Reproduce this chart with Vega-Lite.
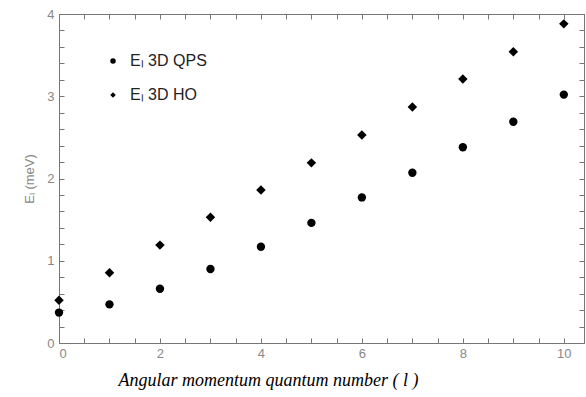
{
  "$schema": "https://vega.github.io/schema/vega-lite/v6.json",
  "width": 525,
  "height": 329,
  "autosize": "none",
  "padding": {"left": 59, "top": 14, "right": 2, "bottom": 54},
  "background": "white",
  "config": {
    "view": {"stroke": "#777777", "strokeWidth": 1},
    "axis": {"grid": false, "domainColor": "#777777", "labelColor": "#888888", "labelFont": "Liberation Sans", "labelFontSize": 13}
  },
  "data": {
    "values": [
      {"l": 0, "E": 0.37, "series": "Eₗ 3D QPS"},
      {"l": 1, "E": 0.47, "series": "Eₗ 3D QPS"},
      {"l": 2, "E": 0.66, "series": "Eₗ 3D QPS"},
      {"l": 3, "E": 0.90, "series": "Eₗ 3D QPS"},
      {"l": 4, "E": 1.17, "series": "Eₗ 3D QPS"},
      {"l": 5, "E": 1.46, "series": "Eₗ 3D QPS"},
      {"l": 6, "E": 1.77, "series": "Eₗ 3D QPS"},
      {"l": 7, "E": 2.07, "series": "Eₗ 3D QPS"},
      {"l": 8, "E": 2.38, "series": "Eₗ 3D QPS"},
      {"l": 9, "E": 2.69, "series": "Eₗ 3D QPS"},
      {"l": 10, "E": 3.02, "series": "Eₗ 3D QPS"},
      {"l": 0, "E": 0.52, "series": "Eₗ 3D HO"},
      {"l": 1, "E": 0.855, "series": "Eₗ 3D HO"},
      {"l": 2, "E": 1.19, "series": "Eₗ 3D HO"},
      {"l": 3, "E": 1.53, "series": "Eₗ 3D HO"},
      {"l": 4, "E": 1.86, "series": "Eₗ 3D HO"},
      {"l": 5, "E": 2.19, "series": "Eₗ 3D HO"},
      {"l": 6, "E": 2.53, "series": "Eₗ 3D HO"},
      {"l": 7, "E": 2.87, "series": "Eₗ 3D HO"},
      {"l": 8, "E": 3.21, "series": "Eₗ 3D HO"},
      {"l": 9, "E": 3.54, "series": "Eₗ 3D HO"},
      {"l": 10, "E": 3.88, "series": "Eₗ 3D HO"}
    ]
  },
  "resolve": {"axis": {"x": "independent", "y": "independent"}},
  "layer": [
    {
      "transform": [{"filter": "datum.series === 'Eₗ 3D QPS'"}],
      "mark": {"type": "point", "filled": true, "opacity": 1, "clip": false, "size": 70, "color": "black"},
      "encoding": {
        "x": {
          "field": "l", "type": "quantitative",
          "scale": {"domain": [0, 10.4], "nice": false, "zero": false},
          "axis": {
            "orient": "bottom",
            "values": [0,0.5,1,1.5,2,2.5,3,3.5,4,4.5,5,5.5,6,6.5,7,7.5,8,8.5,9,9.5,10],
            "labelExpr": "datum.value % 2 === 0 ? format(datum.value, 'd') : ''",
            "labelPadding": 9,
            "ticks": true,
            "tickColor": "#777777",
            "tickWidth": 1,
            "tickSize": -5,
            "title": "Angular momentum quantum number ( l )",
            "titleFont": "Liberation Serif",
            "titleFontStyle": "italic",
            "titleFontWeight": "normal",
            "titleFontSize": 18,
            "titleColor": "#000000",
            "titleX": 209,
            "titleY": 28
          }
        },
        "y": {
          "field": "E", "type": "quantitative",
          "scale": {"domain": [0, 4], "nice": false},
          "axis": {
            "orient": "left",
            "values": [0,0.2,0.4,0.6,0.8,1,1.2,1.4,1.6,1.8,2,2.2,2.4,2.6,2.8,3,3.2,3.4,3.6,3.8,4],
            "labelExpr": "datum.value % 1 === 0 ? format(datum.value, 'd') : ''",
            "labelPadding": 10,
            "ticks": true,
            "tickColor": "#777777",
            "tickWidth": 1,
            "tickSize": -5,
            "title": "Eₗ (meV)",
            "titleFont": "Liberation Sans",
            "titleFontWeight": "normal",
            "titleFontSize": 13,
            "titleColor": "#888888",
            "titlePadding": 10
          }
        },
        "shape": {
          "field": "series", "type": "nominal",
          "scale": {"domain": ["Eₗ 3D QPS", "Eₗ 3D HO"], "range": ["circle", "diamond"]},
          "legend": {
            "title": null,
            "orient": "none",
            "legendX": 46,
            "legendY": 39,
            "labelFont": "Liberation Sans",
            "labelFontSize": 16,
            "labelColor": "#222222",
            "symbolSize": 30,
            "symbolFillColor": "black",
            "symbolStrokeColor": "black",
            "rowPadding": 18,
            "labelOffset": 9
          }
        }
      }
    },
    {
      "transform": [{"filter": "datum.series === 'Eₗ 3D HO'"}],
      "mark": {"type": "point", "filled": true, "opacity": 1, "clip": false, "size": 90, "color": "black"},
      "encoding": {
        "x": {
          "field": "l", "type": "quantitative",
          "axis": {
            "orient": "top",
            "values": [0,0.5,1,1.5,2,2.5,3,3.5,4,4.5,5,5.5,6,6.5,7,7.5,8,8.5,9,9.5,10],
            "labels": false,
            "title": null,
            "ticks": true,
            "tickColor": "#777777",
            "tickWidth": 1,
            "tickSize": -5
          }
        },
        "y": {
          "field": "E", "type": "quantitative",
          "axis": {
            "orient": "right",
            "values": [0,0.2,0.4,0.6,0.8,1,1.2,1.4,1.6,1.8,2,2.2,2.4,2.6,2.8,3,3.2,3.4,3.6,3.8,4],
            "labels": false,
            "title": null,
            "ticks": true,
            "tickColor": "#777777",
            "tickWidth": 1,
            "tickSize": -5
          }
        },
        "shape": {"field": "series", "type": "nominal"}
      }
    }
  ]
}
